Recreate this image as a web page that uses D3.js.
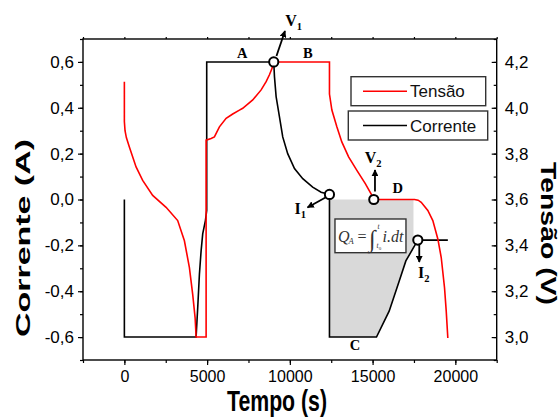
<!DOCTYPE html>
<html><head><meta charset="utf-8">
<script src="https://cdn.jsdelivr.net/npm/d3@7"></script>
<style>
html,body{margin:0;padding:0;background:#fff;}
svg{display:block;}
</style></head>
<body>
<svg id="chart" width="560" height="417" font-family="Liberation Sans, Arial, sans-serif"></svg>
<script>
// ---------- DATA ----------
const timeDomain = [-2500, 22500];
const currentDomain = [-0.7, 0.7];
const voltageDomain = [2.9, 4.3];
const xTickValues = [0, 5000, 10000, 15000, 20000];
const currentTickValues = [-0.6, -0.4, -0.2, 0.0, 0.2, 0.4, 0.6];
const voltageTickValues = [3.0, 3.2, 3.4, 3.6, 3.8, 4.0, 4.2];

// Corrente (A) vs Tempo (s)
const currentT = [0, 0, 4335, 4432, 4535, 4637, 4734, 4897, 4976, 4976, 9027, 9070, 9170, 9370, 9570, 9870, 10280, 10780, 11380, 11890, 12394, 12394, 15236, 16000, 16610, 17010, 17733, 19548];
const currentA = [0, -0.6, -0.6, -0.472, -0.326, -0.224, -0.150, -0.092, -0.048, 0.6, 0.6, 0.536, 0.449, 0.361, 0.273, 0.2, 0.135, 0.091, 0.054, 0.032, 0.022, -0.6, -0.6, -0.487, -0.355, -0.268, -0.177, -0.177];

// Tensão (V) vs Tempo (s)
const voltageT = [0, 0, 40, 120, 302, 707, 1106, 1711, 2521, 3222, 3628, 3930, 4129, 4275, 4335, 4940, 4940, 5242, 5441, 5744, 6149, 6548, 6953, 7152, 7757, 8265, 8567, 8767, 8930, 9027, 12394, 12394, 12540, 12840, 13140, 13550, 14050, 14560, 14960, 15073, 17533, 17750, 17939, 18338, 18640, 18943, 19148, 19347, 19450, 19547];
const voltageV = [4.114, 3.94, 3.90, 3.87, 3.829, 3.742, 3.683, 3.618, 3.566, 3.508, 3.420, 3.303, 3.186, 3.084, 3.0, 3.0, 3.859, 3.866, 3.873, 3.917, 3.954, 3.973, 3.990, 3.998, 4.034, 4.078, 4.114, 4.144, 4.173, 4.2, 4.2, 4.06, 3.99, 3.917, 3.851, 3.786, 3.727, 3.669, 3.618, 3.6, 3.6, 3.597, 3.588, 3.552, 3.508, 3.428, 3.347, 3.215, 3.113, 2.996];

// shaded charge region (integral of current) between these times
const shadeRange = [12394, 17470];

// marked points (time, current-axis value)
const markerT = [9027, 12394, 15073, 17733];
const markerA = [0.6, 0.022, 0.0, -0.177];

// annotation letters (time, current-axis value of baseline)
const labelText = ["A", "B", "C", "D"];
const labelT = [6800, 10800, 13620, 16200];
const labelA = [0.618, 0.618, -0.656, 0.027];

// subscripted labels
const subLabelMain = ["V", "I", "V", "I"];
const subLabelSub = ["1", "1", "2", "2"];
const subLabelT = [9723, 10280, 14520, 17740];
const subLabelA = [0.758, -0.063, 0.1605, -0.344];

// arrows (from -> to)
const arrowT0 = [9191, 12153, 15144, 17821];
const arrowA0 = [0.626, 0.0087, 0.035, -0.194];
const arrowT1 = [9705, 11065, 15144, 17821];
const arrowA1 = [0.735, -0.035, 0.1287, -0.2726];

// formula box extents
const formulaT = [12727, 17017];
const formulaA = [-0.085, -0.232];

const legendNames = ["Tensão", "Corrente"];
const legendColors = ["#ff0000", "#000000"];

// ---------- CHART ----------
const SANS = "Liberation Sans, Arial, sans-serif";
const SERIF = "Liberation Serif, Times New Roman, serif";
const svg = d3.select("#chart");
const L = 83, R = 496.7, T = 39, B = 360;
const x = d3.scaleLinear(timeDomain, [L, R]);
const yA = d3.scaleLinear(currentDomain, [B, T]);
const yV = d3.scaleLinear(voltageDomain, [B, T]);
const fmt = d => d.toFixed(1).replace('.', ',');

const currentData = currentT.map((t, i) => ({t, v: currentA[i]}));
const voltageData = voltageT.map((t, i) => ({t, v: voltageV[i]}));

// shaded area
const shade = currentData.filter((d, i) => d.t >= shadeRange[0] && d.t <= shadeRange[1] && i >= 20);
for (let i = 1; i < currentData.length; i++) {
  const a = currentData[i - 1], b = currentData[i];
  if (a.t < shadeRange[1] && b.t >= shadeRange[1]) {
    const f = (shadeRange[1] - a.t) / (b.t - a.t);
    shade.push({t: shadeRange[1], v: a.v + f * (b.v - a.v)});
    break;
  }
}
svg.append("path")
  .datum(shade)
  .attr("fill", "#d9d9d9")
  .attr("d", d3.area().x(d => x(d.t)).y0(yA(0)).y1(d => yA(Math.min(d.v, 0))));

// axes
const minorX = d3.range(-2500, 22501, 2500);
const minorA = d3.range(-7, 8).map(d => d / 10);
const minorV = d3.range(29, 44).map(d => d / 10);

function styleAxis(g) {
  g.attr("font-family", SANS);
  g.select(".domain").remove();
  g.selectAll("line").attr("stroke", "#000").attr("stroke-width", 1.2);
}
// bottom
svg.append("g").attr("transform", `translate(0,${B})`)
  .call(d3.axisBottom(x).tickValues(minorX).tickSize(3).tickFormat("")).call(styleAxis);
svg.append("g").attr("transform", `translate(0,${B})`)
  .call(d3.axisBottom(x).tickValues(xTickValues).tickSize(5).tickPadding(6).tickFormat(d3.format("d")))
  .call(styleAxis)
  .call(g => g.attr("font-size", 16).selectAll("text").attr("fill", "#000"));
// top
svg.append("g").attr("transform", `translate(0,${T})`)
  .call(d3.axisTop(x).tickValues(minorX).tickSize(2).tickFormat("")).call(styleAxis);
// left
svg.append("g").attr("transform", `translate(${L},0)`)
  .call(d3.axisLeft(yA).tickValues(minorA).tickSize(3).tickFormat("")).call(styleAxis);
svg.append("g").attr("transform", `translate(${L},0)`)
  .call(d3.axisLeft(yA).tickValues(currentTickValues).tickSize(5).tickPadding(4).tickFormat(fmt))
  .call(styleAxis)
  .call(g => g.attr("font-size", 17).selectAll("text").attr("fill", "#000"));
// right (ticks inward)
svg.append("g").attr("transform", `translate(${R},0)`)
  .call(d3.axisLeft(yV).tickValues(minorV).tickSize(3).tickFormat("")).call(styleAxis);
svg.append("g").attr("transform", `translate(${R},0)`)
  .call(d3.axisRight(yV).tickValues(voltageTickValues).tickSize(0).tickPadding(8).tickFormat(fmt))
  .call(styleAxis)
  .call(g => g.attr("font-size", 17).selectAll("text").attr("fill", "#000"));
svg.append("g").attr("transform", `translate(${R},0)`)
  .call(d3.axisLeft(yV).tickValues(voltageTickValues).tickSize(5).tickFormat("")).call(styleAxis);

// frame
svg.append("rect").attr("x", L).attr("y", T).attr("width", R - L).attr("height", B - T)
  .attr("fill", "none").attr("stroke", "#000").attr("stroke-width", 1.4);

// axis titles
svg.append("text").attr("transform", `translate(29.5,238) rotate(-90)`)
  .attr("text-anchor", "middle").attr("font-size", 21).attr("font-weight", "bold")
  .attr("textLength", 198).attr("lengthAdjust", "spacingAndGlyphs").text("Corrente (A)");
svg.append("text").attr("x", 277).attr("y", 411)
  .attr("text-anchor", "middle").attr("font-size", 29).attr("font-weight", "bold")
  .attr("textLength", 100).attr("lengthAdjust", "spacingAndGlyphs").text("Tempo (s)");
svg.append("text").attr("transform", `translate(541,233.5) rotate(90)`)
  .attr("text-anchor", "middle").attr("font-size", 22).attr("font-weight", "bold")
  .attr("textLength", 143).attr("lengthAdjust", "spacingAndGlyphs").text("Tensão (V)");

// lines
svg.append("path").datum(currentData)
  .attr("fill", "none").attr("stroke", "#000").attr("stroke-width", 1.6)
  .attr("d", d3.line().x(d => x(d.t)).y(d => yA(d.v)));
svg.append("path").datum(voltageData)
  .attr("fill", "none").attr("stroke", "#ff0000").attr("stroke-width", 1.6)
  .attr("d", d3.line().x(d => x(d.t)).y(d => yV(d.v)));

// formula box
const fx0 = x(formulaT[0]), fx1 = x(formulaT[1]), fy0 = yA(formulaA[0]), fy1 = yA(formulaA[1]);
svg.append("rect").attr("x", fx0).attr("y", fy0).attr("width", fx1 - fx0).attr("height", fy1 - fy0)
  .attr("fill", "#fff").attr("stroke", "#333").attr("stroke-width", 1.4);
const fg = svg.append("g").attr("transform", `translate(${fx0},${fy0})`)
  .attr("font-family", SERIF).attr("font-style", "italic").attr("fill", "#333");
fg.append("text").attr("x", 3).attr("y", 23).attr("font-size", 16).text("Q");
fg.append("text").attr("x", 13.5).attr("y", 25.5).attr("font-size", 8.5).text("A");
fg.append("text").attr("x", 22.5).attr("y", 23).attr("font-size", 16).attr("font-style", "normal").text("=");
fg.append("text").attr("x", 34).attr("y", 28).attr("font-size", 24).attr("font-style", "normal").text("∫");
fg.append("text").attr("x", 42.5).attr("y", 10.5).attr("font-size", 7.5).text("t");
fg.append("text").attr("x", 41.5).attr("y", 29.5).attr("font-size", 7.5).text("t");
fg.append("text").attr("x", 43.7).attr("y", 31).attr("font-size", 5).attr("font-style", "normal").text("0");
fg.append("text").attr("x", 47.5).attr("y", 23).attr("font-size", 16).text("i.dt");

// arrows
const defs = svg.append("defs");
defs.append("marker").attr("id", "ah").attr("viewBox", "0 0 10 10").attr("refX", 9).attr("refY", 5)
  .attr("markerWidth", 7).attr("markerHeight", 7).attr("markerUnits", "userSpaceOnUse").attr("orient", "auto")
  .append("path").attr("d", "M0,0 L10,5 L0,10 Z").attr("fill", "#000");
arrowT0.forEach((t, i) => {
  svg.append("line").attr("x1", x(t)).attr("y1", yA(arrowA0[i]))
    .attr("x2", x(arrowT1[i])).attr("y2", yA(arrowA1[i]))
    .attr("stroke", "#000").attr("stroke-width", 1.8).attr("marker-end", "url(#ah)");
});

// markers
markerT.forEach((t, i) => {
  svg.append("circle").attr("cx", x(t)).attr("cy", yA(markerA[i])).attr("r", 4.6)
    .attr("fill", "#fff").attr("stroke", "#000").attr("stroke-width", 2);
});

// letter labels
labelText.forEach((s, i) => {
  svg.append("text").attr("x", x(labelT[i])).attr("y", yA(labelA[i]))
    .attr("font-family", SERIF).attr("font-weight", "bold").attr("font-size", 14.5).text(s);
});
subLabelMain.forEach((s, i) => {
  const t = svg.append("text").attr("x", x(subLabelT[i])).attr("y", yA(subLabelA[i]))
    .attr("font-family", SERIF).attr("font-weight", "bold").attr("font-size", 16);
  t.append("tspan").text(s);
  t.append("tspan").attr("font-size", 10.5).attr("dy", 4).text(subLabelSub[i]);
});

// legend
const legBoxes = [[351, 76.7, 134.7, 29], [348.3, 111, 139.4, 29]];
legendNames.forEach((name, i) => {
  const [bx, by, bw, bh] = legBoxes[i];
  svg.append("rect").attr("x", bx).attr("y", by).attr("width", bw).attr("height", bh)
    .attr("fill", "#fff").attr("stroke", "#333").attr("stroke-width", 1.4);
  svg.append("line").attr("x1", 363).attr("x2", 407).attr("y1", by + bh / 2).attr("y2", by + bh / 2)
    .attr("stroke", legendColors[i]).attr("stroke-width", 1.4);
  svg.append("text").attr("x", 410).attr("y", by + bh / 2 + 6).attr("font-size", 17).attr("fill", "#111").text(name);
});
</script>
</body></html>
